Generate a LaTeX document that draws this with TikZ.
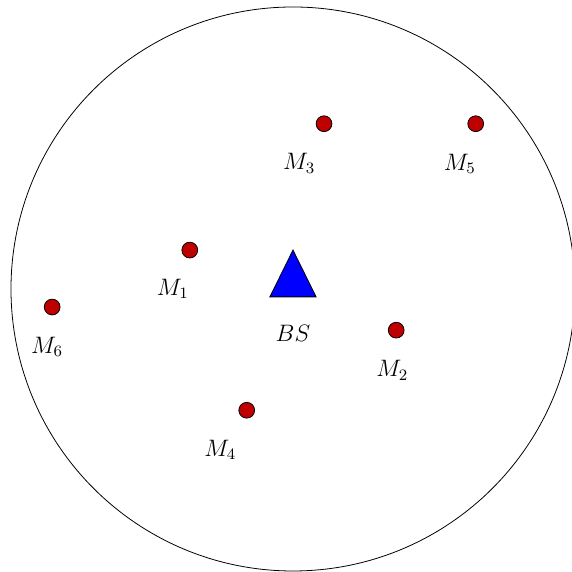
\documentclass[tikz,border=0pt]{standalone}
\usepackage{amsmath}
\usepackage{xcolor}
\usepackage{tikz}
\usetikzlibrary{positioning}
\definecolor{userred}{RGB}{191, 0, 0}

\begin{document}
\begin{tikzpicture}[
			user/.style={circle, draw=black, fill=userred, minimum size=0.28cm, inner sep=0pt},
			lbl/.style={inner sep=1pt, font=\large}
			]
			\useasboundingbox (-5.195,-5.018) rectangle (4.947,5.124);
			
			% Cell
			\draw (0,0) circle (5cm);
			
			% Base station
			\draw[fill=blue] (-0.41,-0.14) -- (0,0.69) -- (0.41,-0.14) -- cycle;
			\node[lbl] (bs) at (0,-0.78) {$BS$};
			
			% Users
			\node[user] (m1) at (-1.83,0.69) {};
			\node[user] (m2) at (1.83,-0.73) {};
			\node[user] (m3) at (0.55,2.93) {};
			\node[user] (m4) at (-0.82,-2.15) {};
			\node[user] (m5) at (3.24,2.93) {};
			\node[user] (m6) at (-4.27,-0.32) {};
			
			% Labels
			\node[lbl] (l1) at (-2.13,0) {$M_1$};
			\node[lbl] (l2) at (1.76,-1.44) {$M_2$};
			\node[lbl] (l3) at (0.11,2.23) {$M_3$};
			\node[lbl] (l4) at (-1.29,-2.85) {$M_4$};
			\node[lbl] (l5) at (2.96,2.22) {$M_5$};
			\node[lbl] (l6) at (-4.36,-1.03) {$M_6$};
		\end{tikzpicture}
\end{document}
